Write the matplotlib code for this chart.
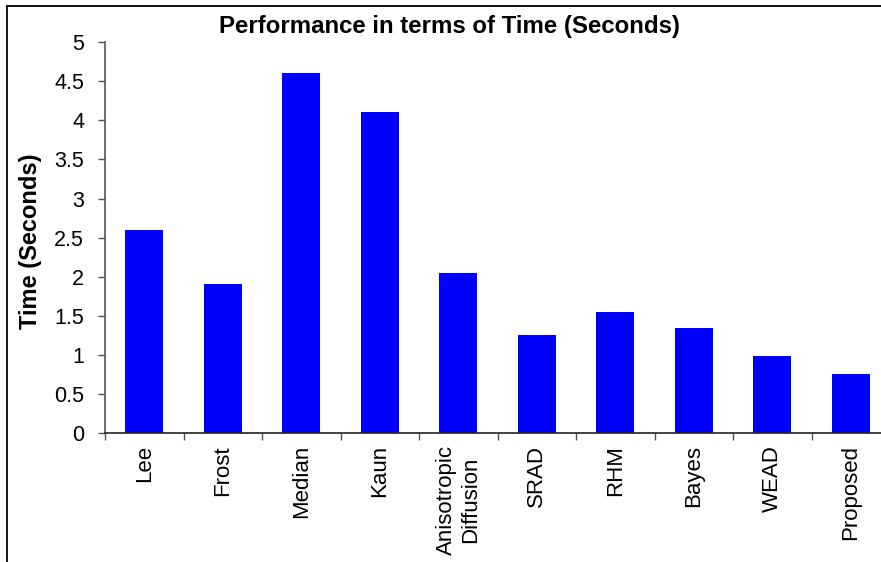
import matplotlib
matplotlib.use("Agg")
import matplotlib.pyplot as plt
from matplotlib.lines import Line2D

categories = ["Lee", "Frost", "Median", "Kaun", "Anisotropic\nDiffusion",
              "SRAD", "RHM", "Bayes", "WEAD", "Proposed"]
times = [2.60, 1.91, 4.61, 4.11, 2.05, 1.26, 1.55, 1.35, 0.99, 0.76]
yticks = [0, 0.5, 1, 1.5, 2, 2.5, 3, 3.5, 4, 4.5, 5]
ytick_labels = ["0", "0.5", "1", "1.5", "2", "2.5", "3", "3.5", "4", "4.5", "5"]

plt.rcParams['font.family'] = ['Liberation Sans', 'DejaVu Sans']

W, H = 881, 562
fig = plt.figure(figsize=(W / 100, H / 100), dpi=100)
fig.patch.set_facecolor("white")

left_px, right_px, top_px, bottom_px = 105, 890, 42, 433.3
ax = fig.add_axes([left_px / W, 1 - bottom_px / H,
                   (right_px - left_px) / W, (bottom_px - top_px) / H])

x = list(range(len(categories)))
ax.bar(x, times, width=0.48, color="#0000FF", edgecolor="none", zorder=2)

ax.set_xlim(-0.5, len(categories) - 0.5)
ax.set_ylim(0, 5)
ax.set_yticks(yticks)
ax.set_yticklabels(ytick_labels, fontsize=15.5)

ax.set_xticks([i - 0.5 for i in range(len(categories) + 1)])
ax.set_xticklabels([])
ax.set_xticks(x, minor=True)
ax.set_xticklabels(categories, minor=True, rotation=90, fontsize=16,
                   multialignment="center", va="top", ha="center")
ax.tick_params(axis="x", which="minor", length=0, pad=8.5)
ax.tick_params(axis="x", which="major", length=5, width=1, color="#555555", direction="out")
ax.tick_params(axis="y", length=5, width=1, color="#555555", direction="out", pad=10)

for s in ["top", "right"]:
    ax.spines[s].set_visible(False)
ax.spines["left"].set_color("#555555")
ax.spines["bottom"].set_color("#222222")
ax.spines["left"].set_linewidth(1.2)
ax.spines["bottom"].set_linewidth(1.2)

ax.set_ylabel("Time (Seconds)", fontsize=17, fontweight="bold")
ax.yaxis.set_label_coords(-(105 - 42) / (right_px - left_px), 0.49)

fig.text(449.5 / W, 1 - 27 / H, "Performance in terms of Time (Seconds)",
         ha="center", va="center", fontsize=17.3, fontweight="bold")

# outer chart-area border (top and left edges visible)
bx, by = 7.3 / W, 1 - 6 / H
fig.add_artist(Line2D([bx, 1.02], [by, by], transform=fig.transFigure,
                      color="black", linewidth=1.3, clip_on=False))
fig.add_artist(Line2D([bx, bx], [by, -0.02], transform=fig.transFigure,
                      color="black", linewidth=1.3, clip_on=False))

fig.savefig("out.png", dpi=100, facecolor="white")
